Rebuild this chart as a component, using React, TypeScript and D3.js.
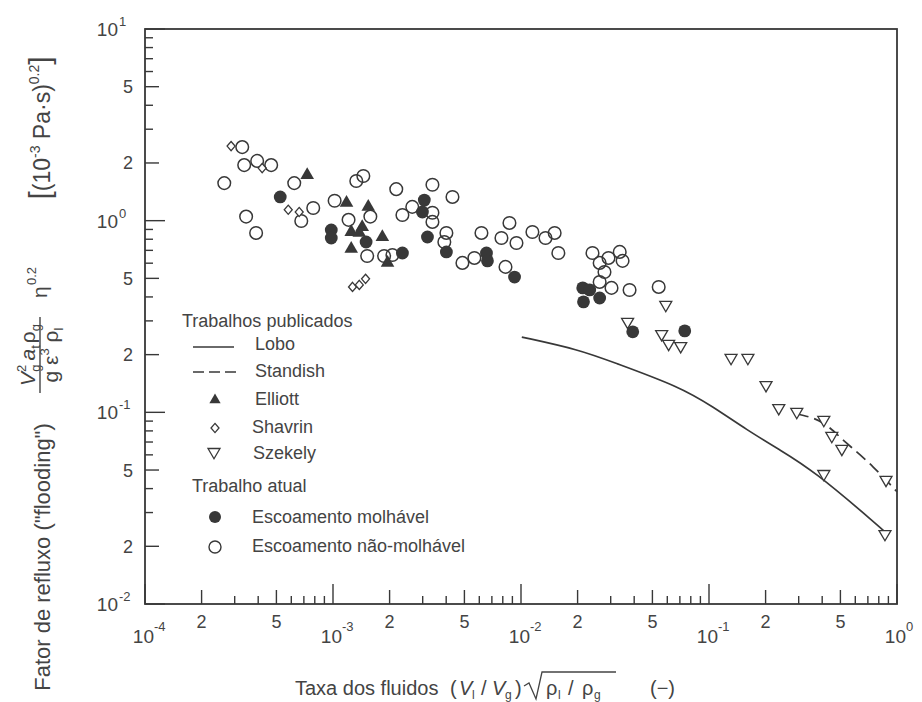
import React, { useRef, useEffect } from 'react'
import * as d3 from 'd3'

// Trabalho atual - escoamento molhável (filled circles)
const wetX = [5.24e-4, 9.79e-4, 9.79e-4, 1.5e-3, 2.34e-3, 3.06e-3, 2.99e-3, 3.18e-3, 4.01e-3, 6.55e-3, 6.63e-3, 9.24e-3, 2.13e-2, 2.32e-2, 2.15e-2, 2.62e-2, 3.93e-2, 7.43e-2]
const wetY = [1.33, 0.894, 0.812, 0.774, 0.678, 1.28, 1.11, 0.822, 0.687, 0.678, 0.617, 0.508, 0.446, 0.435, 0.377, 0.395, 0.263, 0.266]

// Trabalho atual - escoamento não-molhável (open circles)
const dryX = [3.29e-4, 3.37e-4, 3.95e-4, 4.69e-4, 2.64e-4, 3.45e-4, 3.9e-4, 6.22e-4, 6.78e-4, 7.85e-4, 1.02e-3, 1.33e-3, 1.45e-3, 1.21e-3, 1.58e-3, 1.52e-3, 1.87e-3, 2.07e-3, 2.17e-3, 2.34e-3, 2.64e-3, 3.38e-3, 3.38e-3, 3.38e-3, 4.01e-3, 3.91e-3, 4.32e-3, 4.88e-3, 5.65e-3, 6.16e-3, 7.87e-3, 8.68e-3, 9.46e-3, 8.27e-3, 1.15e-2, 1.35e-2, 1.51e-2, 1.58e-2, 2.4e-2, 2.62e-2, 2.92e-2, 3.35e-2, 3.47e-2, 2.78e-2, 2.62e-2, 3.03e-2, 3.78e-2, 5.4e-2]
const dryY = [2.42, 1.95, 2.05, 1.95, 1.57, 1.05, 0.863, 1.57, 0.996, 1.165, 1.27, 1.61, 1.71, 1.01, 1.05, 0.654, 0.654, 0.662, 1.46, 1.07, 1.18, 1.54, 1.1, 0.985, 0.863, 0.774, 1.33, 0.602, 0.639, 0.863, 0.812, 0.973, 0.765, 0.574, 0.873, 0.812, 0.863, 0.678, 0.678, 0.602, 0.639, 0.687, 0.617, 0.54, 0.479, 0.446, 0.435, 0.451]

// Elliott (filled triangles)
const elliottX = [7.29e-4, 1.18e-3, 1.54e-3, 1.25e-3, 1.43e-3, 1.83e-3, 1.25e-3, 1.95e-3, 1.38e-3]
const elliottY = [1.73, 1.24, 1.18, 0.873, 0.927, 0.822, 0.712, 0.602, 0.863]

// Shavrin (open diamonds)
const shavrinX = [2.87e-4, 4.2e-4, 5.78e-4, 6.61e-4, 1.27e-3, 1.38e-3, 1.49e-3]
const shavrinY = [2.45, 1.88, 1.14, 1.11, 0.451, 0.462, 0.497]

// Szekely (open down triangles)
const szekelyX = [5.89e-2, 3.69e-2, 5.6e-2, 6.1e-2, 7.07e-2, 0.131, 0.161, 0.201, 0.235, 0.293, 0.408, 0.45, 0.509, 0.408, 0.874, 0.863]
const szekelyY = [0.359, 0.293, 0.253, 0.225, 0.219, 0.19, 0.19, 0.137, 0.104, 0.0993, 0.0902, 0.0744, 0.0637, 0.0471, 0.0439, 0.0229]

// Lobo correlation (solid) and Standish (dashed)
const loboX = [0.0101, 0.0205, 0.0307, 0.0699, 0.105, 0.159, 0.238, 0.357, 0.812, 0.874]
const loboY = [0.247, 0.212, 0.183, 0.136, 0.107, 0.081, 0.0637, 0.05, 0.0252, 0.0235]
const standishX = [0.293, 0.404, 0.54, 0.745, 1.0]
const standishY = [0.098, 0.088, 0.069, 0.052, 0.0385]

const xDecades = [-4, -3, -2, -1, 0]
const yDecades = [-2, -1, 0, 1]
const multipliers = [1, 2, 3, 4, 5, 6, 7, 8, 9]
const labelled = [2, 5]

const legendGroups = ['Trabalhos publicados', 'Trabalho atual']
const legendLabels = ['Lobo', 'Standish', 'Elliott', 'Shavrin', 'Szekely', 'Escoamento molhável', 'Escoamento não-molhável']

const ink = '#383838'
const textInk = '#444'
const font = 'Liberation Sans, Arial, sans-serif'

const diamond = 'M0,-4.6L4,0L0,4.6L-4,0Z'
const downTri = 'M-6,-4.5L6,-4.5L0,5.8Z'

const App = () => {
  const svgRef = useRef(null)
  const frame = { left: 145, right: 897, top: 29, bottom: 604 }
  const x = d3.scaleLog().domain([1e-4, 1]).range([frame.left, frame.right])
  const y = d3.scaleLog().domain([1e-2, 10]).range([frame.bottom, frame.top])

  useEffect(() => {
    const svg = d3.select(svgRef.current)
    const plot = svg.select('.plot')
    plot.selectAll('*').remove()

    const tickLen = (m) => (m === 1 ? 20 : m === 2 || m === 5 ? 14 : 8)

    // ticks
    const xTicks = []
    xDecades.slice(0, -1).forEach((d) => multipliers.forEach((m) => xTicks.push({ v: m * 10 ** d, m, d })))
    xTicks.push({ v: 1, m: 1, d: 0 })
    const yTicks = []
    yDecades.slice(0, -1).forEach((d) => multipliers.forEach((m) => yTicks.push({ v: m * 10 ** d, m, d })))
    yTicks.push({ v: 10, m: 1, d: 1 })

    const axes = plot.append('g').attr('stroke', ink).attr('stroke-width', 1.4)
    axes
      .selectAll('.xt')
      .data(xTicks)
      .join('line')
      .attr('x1', (t) => x(t.v))
      .attr('x2', (t) => x(t.v))
      .attr('y1', frame.bottom)
      .attr('y2', (t) => frame.bottom - tickLen(t.m))
    axes
      .selectAll('.yt')
      .data(yTicks)
      .join('line')
      .attr('y1', (t) => y(t.v))
      .attr('y2', (t) => y(t.v))
      .attr('x1', frame.left)
      .attr('x2', (t) => frame.left + tickLen(t.m))
    plot
      .append('rect')
      .attr('x', frame.left)
      .attr('y', frame.top)
      .attr('width', frame.right - frame.left)
      .attr('height', frame.bottom - frame.top)
      .attr('fill', 'none')
      .attr('stroke', ink)
      .attr('stroke-width', 1.8)

    // tick labels
    const labels = plot.append('g').attr('fill', textInk).attr('font-size', 18)
    labels
      .selectAll('.xl')
      .data(xTicks.filter((t) => labelled.includes(t.m)))
      .join('text')
      .attr('x', (t) => x(t.v))
      .attr('y', 628)
      .attr('text-anchor', 'middle')
      .text((t) => t.m)
    xDecades.forEach((d) => {
      const px = x(10 ** d)
      labels.append('text').attr('x', px + 9).attr('y', 643).attr('text-anchor', 'end').attr('font-size', 19).text('10')
      labels.append('text').attr('x', px + 9).attr('y', 631).attr('font-size', 13).text(d)
    })
    labels
      .selectAll('.yl')
      .data(yTicks.filter((t) => labelled.includes(t.m)))
      .join('text')
      .attr('x', 133)
      .attr('y', (t) => y(t.v) + 6.5)
      .attr('text-anchor', 'end')
      .text((t) => t.m)
    yDecades.forEach((d) => {
      const py = y(10 ** d)
      labels.append('text').attr('x', 118).attr('y', py + 7).attr('text-anchor', 'end').attr('font-size', 19).text('10')
      labels.append('text').attr('x', 119).attr('y', py - 3).attr('font-size', 13).text(d)
    })

    // curves
    const line = d3
      .line()
      .x((d) => x(d[0]))
      .y((d) => y(d[1]))
      .curve(d3.curveBasis)
    plot
      .append('path')
      .attr('d', line(d3.zip(loboX, loboY)))
      .attr('fill', 'none')
      .attr('stroke', ink)
      .attr('stroke-width', 1.7)
    plot
      .append('path')
      .attr('d', line.curve(d3.curveMonotoneX)(d3.zip(standishX, standishY)))
      .attr('fill', 'none')
      .attr('stroke', ink)
      .attr('stroke-width', 1.7)
      .attr('stroke-dasharray', '12,6')

    // markers
    const marks = plot.append('g')
    marks
      .selectAll('.dry')
      .data(d3.zip(dryX, dryY))
      .join('circle')
      .attr('cx', (d) => x(d[0]))
      .attr('cy', (d) => y(d[1]))
      .attr('r', 6.3)
      .attr('fill', 'none')
      .attr('stroke', ink)
      .attr('stroke-width', 1.5)
    marks
      .selectAll('.shav')
      .data(d3.zip(shavrinX, shavrinY))
      .join('path')
      .attr('d', diamond)
      .attr('transform', (d) => `translate(${x(d[0])},${y(d[1])})`)
      .attr('fill', 'white')
      .attr('stroke', ink)
      .attr('stroke-width', 1.3)
    marks
      .selectAll('.szek')
      .data(d3.zip(szekelyX, szekelyY))
      .join('path')
      .attr('d', downTri)
      .attr('transform', (d) => `translate(${x(d[0])},${y(d[1])})`)
      .attr('fill', 'white')
      .attr('stroke', ink)
      .attr('stroke-width', 1.3)
    marks
      .selectAll('.ell')
      .data(d3.zip(elliottX, elliottY))
      .join('path')
      .attr('d', d3.symbol(d3.symbolTriangle, 80)())
      .attr('transform', (d) => `translate(${x(d[0])},${y(d[1])})`)
      .attr('fill', ink)
    marks
      .selectAll('.wet')
      .data(d3.zip(wetX, wetY))
      .join('circle')
      .attr('cx', (d) => x(d[0]))
      .attr('cy', (d) => y(d[1]))
      .attr('r', 6.4)
      .attr('fill', ink)
  }, [])

  const legendRows = [
    { label: legendLabels[0], tx: 255, ty: 350, key: 'lobo' },
    { label: legendLabels[1], tx: 255, ty: 377, key: 'standish' },
    { label: legendLabels[2], tx: 255, ty: 405, key: 'elliott' },
    { label: legendLabels[3], tx: 252, ty: 433, key: 'shavrin' },
    { label: legendLabels[4], tx: 253, ty: 459, key: 'szekely' },
    { label: legendLabels[5], tx: 252, ty: 523, key: 'wet' },
    { label: legendLabels[6], tx: 252, ty: 552, key: 'dry' },
  ]

  return (
    <svg
      ref={svgRef}
      width={922}
      height={702}
      style={{ position: 'absolute', left: 0, top: 0, background: '#fff' }}
      fontFamily={font}
    >
      <g className='plot' />

      {/* legend */}
      <g fill={textInk} fontSize={18}>
        <text x={182} y={327}>{legendGroups[0]}</text>
        <text x={192} y={492}>{legendGroups[1]}</text>
        {legendRows.map((r) => (
          <text key={r.key} x={r.tx} y={r.ty}>{r.label}</text>
        ))}
      </g>
      <g stroke={ink} strokeWidth={1.7}>
        <line x1={193} x2={234} y1={347} y2={347} />
        <line x1={193} x2={240} y1={372} y2={372} strokeDasharray='11,5' />
      </g>
      <path d={d3.symbol(d3.symbolTriangle, 55)()} transform='translate(215,400)' fill={ink} />
      <path d={diamond} transform='translate(215,428)' fill='white' stroke={ink} strokeWidth={1.3} />
      <path d={downTri} transform='translate(214,453)' fill='white' stroke={ink} strokeWidth={1.3} />
      <circle cx={215} cy={517} r={6} fill={ink} />
      <circle cx={215} cy={547} r={6} fill='none' stroke={ink} strokeWidth={1.4} />

      {/* x axis title */}
      <g fill={textInk} fontSize={20}>
        <text x={295} y={695}>Taxa dos fluidos</text>
        <text x={450} y={695}>(</text>
        <text x={459} y={695} fontStyle='italic'>V</text>
        <text x={472} y={699} fontSize={12}>l</text>
        <text x={481} y={695}>/</text>
        <text x={492} y={695} fontStyle='italic'>V</text>
        <text x={505} y={699} fontSize={12}>g</text>
        <text x={515} y={695}>)</text>
        <text x={546} y={695}>ρ</text>
        <text x={558} y={699} fontSize={12}>l</text>
        <text x={568} y={695}>/</text>
        <text x={582} y={695}>ρ</text>
        <text x={594} y={699} fontSize={12}>g</text>
        <text x={650} y={695}>(−)</text>
      </g>
      <path d='M524,686L529,683L536,699L542,672L616,672' fill='none' stroke={textInk} strokeWidth={1.3} />

      {/* y axis title */}
      <g fill={textInk}>
        <g transform='translate(42,557) rotate(-90)'>
          <text textAnchor='middle' y={8} fontSize={22}>Fator de refluxo ("flooding")</text>
        </g>
        <g transform='translate(40,355) rotate(-90)'>
          <line x1={-38} x2={38} y1={0} y2={0} stroke={textInk} strokeWidth={1.4} />
          <text textAnchor='middle' y={-5} fontSize={21}>
            <tspan fontStyle='italic'>V</tspan>
            <tspan fontSize={13} dy={-9}>2</tspan>
            <tspan fontSize={13} dx={-7} dy={14}>g</tspan>
            <tspan fontStyle='italic' dx={4} dy={-5}>a</tspan>
            <tspan fontSize={13} dy={5}>t</tspan>
            <tspan dx={2} dy={-5}>ρ</tspan>
            <tspan fontSize={13} dy={5}>g</tspan>
          </text>
          <text textAnchor='middle' y={18} fontSize={21}>
            <tspan>g ε</tspan>
            <tspan fontSize={13} dy={-9}>3</tspan>
            <tspan dy={9}> ρ</tspan>
            <tspan fontSize={13} dy={5}>l</tspan>
          </text>
          <text x={57} y={7} fontSize={21}>η</text>
          <text x={70} y={-4} fontSize={13}>0.2</text>
        </g>
        <g transform='translate(38,128) rotate(-90)'>
          <text textAnchor='middle' y={12} fontSize={23}>
            <tspan fontSize={30}>[</tspan>
            <tspan>(10</tspan>
            <tspan fontSize={14} dy={-10}>-3</tspan>
            <tspan dy={10}> Pa·s)</tspan>
            <tspan fontSize={14} dy={-11}>0.2</tspan>
            <tspan fontSize={30} dy={11}>]</tspan>
          </text>
        </g>
      </g>
    </svg>
  )
}

export default App
